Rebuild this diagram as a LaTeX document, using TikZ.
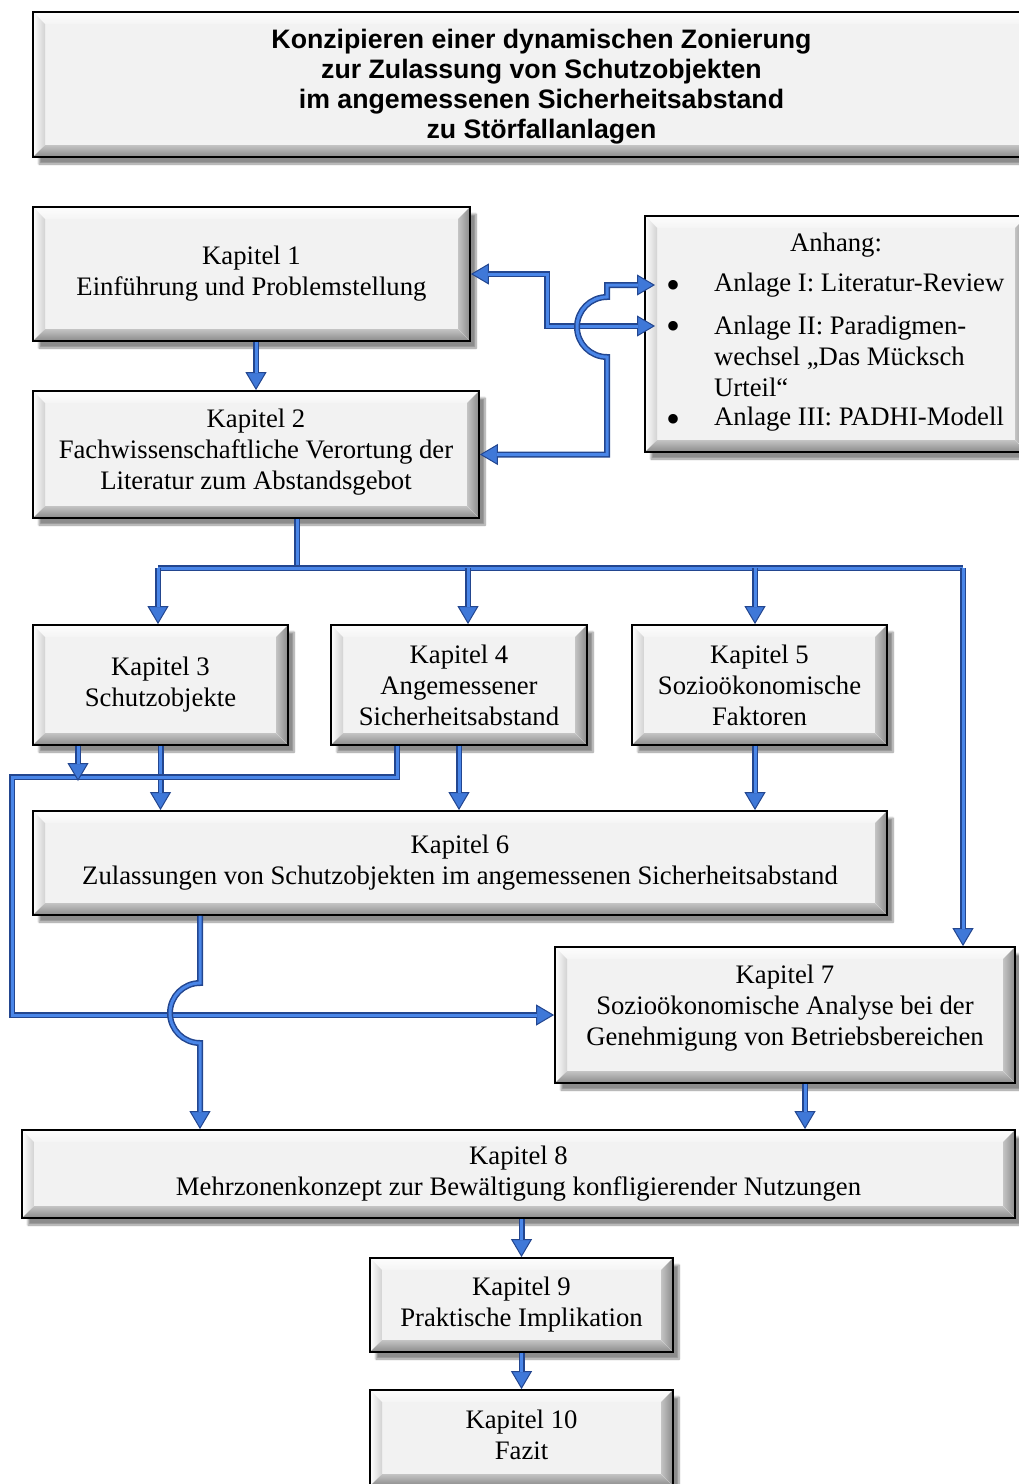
\documentclass[tikz,border=0pt]{standalone}
\usepackage{fontspec}
\setmainfont{Liberation Serif}
\newfontfamily\headfont{Liberation Sans}
\usetikzlibrary{arrows.meta,shadows.blur}

\definecolor{face}{HTML}{F2F2F2}
\definecolor{bevA}{HTML}{FDFDFD}
\definecolor{bevB}{HTML}{D2D2D2}
\definecolor{bevC}{HTML}{8A8A8A}
\definecolor{bevD}{HTML}{C4C4C4}
\definecolor{tubedark}{HTML}{23468F}
\definecolor{tubelight}{HTML}{4A86E8}
\definecolor{tipblue}{HTML}{3F78D8}

% bevelled frame drawn inside every chapter box
\newcommand\kbevels{%
  \def\bvw{12pt}%
  \coordinate (bNW) at (path picture bounding box.north west);
  \coordinate (bNE) at (path picture bounding box.north east);
  \coordinate (bSW) at (path picture bounding box.south west);
  \coordinate (bSE) at (path picture bounding box.south east);
  \fill[top color=bevA, bottom color=face!80!white]
    (bNW) -- (bNE) -- ([xshift=-\bvw,yshift=-\bvw]bNE) -- ([xshift=\bvw,yshift=-\bvw]bNW) -- cycle;
  \fill[left color=white, right color=bevB]
    (bNW) -- ([xshift=\bvw,yshift=-\bvw]bNW) -- ([xshift=\bvw,yshift=\bvw]bSW) -- (bSW) -- cycle;
  \fill[left color=bevD, right color=bevC]
    (bNE) -- (bSE) -- ([xshift=-\bvw,yshift=\bvw]bSE) -- ([xshift=-\bvw,yshift=-\bvw]bNE) -- cycle;
  \fill[top color=bevD, bottom color=bevC]
    (bSW) -- ([xshift=\bvw,yshift=\bvw]bSW) -- ([xshift=-\bvw,yshift=\bvw]bSE) -- (bSE) -- cycle;
}

\tikzset{
  kbox/.style={draw=black, line width=1.8pt, fill=face, inner sep=0pt,
    blur shadow={shadow xshift=6pt, shadow yshift=-7pt, shadow blur steps=8, shadow opacity=45},
    path picture={\kbevels}, align=center,
    font=\fontsize{26.7}{31}\selectfont},
  txt/.style={font=\fontsize{26.7}{31}\selectfont, inner sep=0pt},
  dot/.style={font=\fontsize{40}{40}\selectfont, inner sep=0pt},
  tubebase/.style={draw=tubedark, line width=6pt, line join=miter},
  ktip/.tip={Triangle[length=18pt,width=21pt,line width=1pt,fill=tipblue]},
  conn/.style={tubebase, postaction={draw=tubelight, line width=3pt}},
  arr/.style={tubebase, -ktip,
    postaction={draw=tubelight, line width=3pt, arrows=-, shorten >=17pt}},
  arrb/.style={tubebase, ktip-ktip,
    postaction={draw=tubelight, line width=3pt, arrows=-, shorten <=17pt, shorten >=17pt}},
}

\begin{document}
\begin{tikzpicture}[x=1pt,y=-1pt]
\useasboundingbox (0,0) rectangle (1019,1484);

% ---- boxes ----
\node[kbox, minimum width=1017pt, minimum height=145pt] (title) at (541.5,84.5) {};
\node[txt, align=center, font=\headfont\bfseries\fontsize{26.7}{30}\selectfont] (titletext) at (541.5,87)
  {Konzipieren einer dynamischen Zonierung\\zur Zulassung von Schutzobjekten\\im angemessenen Sicherheitsabstand\\zu Störfallanlagen};

\node[kbox, minimum width=437pt, minimum height=134pt] (K1) at (251.5,274)
  {Kapitel 1\\Einführung und Problemstellung};

\node[kbox, minimum width=382pt, minimum height=236pt] (anh) at (836,334) {};
\node[txt] (a0) at (836,245) {Anhang:};
\node[dot] (bl1) at (673,289) {•};
\node[dot] (bl2) at (673,330) {•};
\node[dot] (bl3) at (673,423) {•};
\node[txt, anchor=west] (a1) at (714,285) {Anlage I: Literatur-Review};
\node[txt, anchor=west, align=left] (a2) at (714,356) {Anlage II: Paradigmen-\\wechsel „Das Mücksch\\Urteil“};
\node[txt, anchor=west] (a3) at (714,419) {Anlage III: PADHI-Modell};

\node[kbox, minimum width=446pt, minimum height=127pt] (K2) at (256,454.5) {};
\node[txt, align=center] (K2text) at (256,452)
  {Kapitel 2\\Fachwissenschaftliche Verortung der\\Literatur zum Abstandsgebot};

\node[kbox, minimum width=255pt, minimum height=120pt] (K3) at (160.5,685)
  {Kapitel 3\\Schutzobjekte};
\node[kbox, minimum width=256pt, minimum height=120pt] (K4) at (459,685)
  {Kapitel 4\\Angemessener\\Sicherheitsabstand};
\node[kbox, minimum width=255pt, minimum height=120pt] (K5) at (759.5,685)
  {Kapitel 5\\Sozioökonomische\\Faktoren};

\node[kbox, minimum width=854pt, minimum height=104pt] (K6) at (460,863)
  {Kapitel 6\\Zulassungen von Schutzobjekten im angemessenen Sicherheitsabstand};

\node[kbox, minimum width=460pt, minimum height=136pt] (K7) at (785,1015) {};
\node[txt, align=center] (K7text) at (785,1008)
  {Kapitel 7\\Sozioökonomische Analyse bei der\\Genehmigung von Betriebsbereichen};

\node[kbox, minimum width=993pt, minimum height=88pt] (K8) at (518.5,1174)
  {Kapitel 8\\Mehrzonenkonzept zur Bewältigung konfligierender Nutzungen};

\node[kbox, minimum width=303pt, minimum height=94pt] (K9) at (521.5,1305)
  {Kapitel 9\\Praktische Implikation};

\node[kbox, minimum width=303pt, minimum height=96pt] (K10) at (521.5,1438) {};
\node[txt, align=center] (K10text) at (521.5,1435) {Kapitel 10\\Fazit};

% ---- helper points for the routing ----
\coordinate (t1) at (655,285);
\coordinate (t2) at (655,326);
\coordinate (v1) at (547,300);
\coordinate (h2) at (607,327);
\coordinate (d0) at (297,568);
\coordinate (dl) at (158,568);
\coordinate (s4) at (468,568);
\coordinate (s5) at (755,568);
\coordinate (dr) at (963,568);
\coordinate (p4) at (397,777);
\coordinate (pl) at (12,777);
\coordinate (m3) at (78,781);
\coordinate (h6) at (200,1013);

% ---- connectors ----
\draw[arr] (K1.south -| K2.north) -- (K2.north);

\draw[arrb] (K1.east) -- (K1.east -| v1) -- (v1 |- t2) -- (t2);
\draw[arrb] (K2.east) -- (K2.east -| h2) -- ([yshift=-30pt]h2)
  arc[start angle=270, end angle=90, radius=30pt] -- (h2 |- t1) -- (t1);

\draw[conn] (K2.south -| d0) -- (d0);
\draw[conn] (dl) -- (dr);
\draw[arr] (dl) -- (dl |- K3.north);
\draw[arr] (s4) -- (s4 |- K4.north);
\draw[arr] (s5) -- (s5 |- K5.north);
\draw[arr] (dr) -- (dr |- K7.north);

\draw[arr] (K3.south) -- (K3.south |- K6.north);
\draw[arr] (K4.south) -- (K4.south |- K6.north);
\draw[arr] (s5 |- K5.south) -- (s5 |- K6.north);

\draw[arr] (p4 |- K4.south) -- (p4) -- (pl) -- (pl |- K7.west) -- (K7.west);
\draw[arr] (m3 |- K3.south) -- (m3);

\draw[arr] (K6.south -| h6) -- ([yshift=30pt]h6)
  arc[start angle=90, end angle=270, radius=30pt] -- (h6 |- K8.north);

\draw[arr] ([xshift=20pt]K7.south) -- ([xshift=20pt]K7.south |- K8.north);
\draw[arr] (K8.south -| K9.north) -- (K9.north);
\draw[arr] (K9.south) -- (K10.north);
\end{tikzpicture}
\end{document}
